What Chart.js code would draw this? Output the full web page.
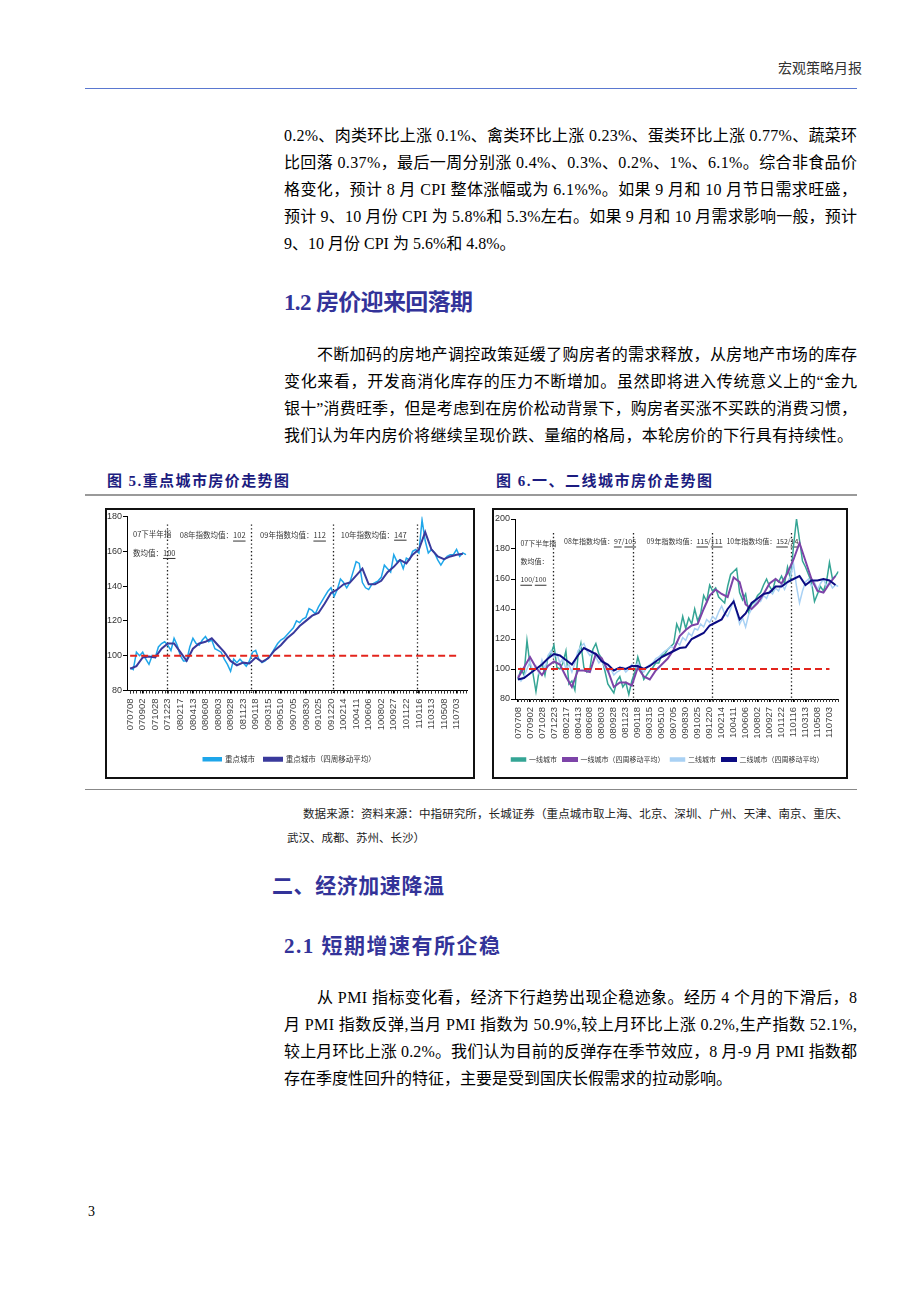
<!DOCTYPE html>
<html><head><meta charset="utf-8">
<script src="https://cdn.jsdelivr.net/npm/chart.js@4.4.1/dist/chart.umd.min.js"></script>
<style>
html,body{margin:0;padding:0;background:#fff;}
body{width:920px;height:1302px;position:relative;overflow:hidden;font-family:"Liberation Serif","Noto Sans CJK SC",serif;color:#000;}
.a{position:absolute;white-space:nowrap;}
.ln{font-size:16px;line-height:27px;height:27px;}
.h{color:#333399;font-weight:bold;font-family:"Liberation Serif","Noto Sans CJK SC",serif;line-height:30px;}
.cap{color:#1c1c80;font-weight:bold;font-size:15px;line-height:20px;}
.box{position:absolute;border:2px solid #111;box-sizing:border-box;background:#fff;}
.box canvas{display:block;}
.rule{position:absolute;left:85px;width:772px;}
.src{font-size:11.5px;line-height:16px;color:#222;}
</style></head><body>

<div class="a" style="left:778px;top:60px;font-size:14px;line-height:18px;color:#333;" data-w="84">宏观策略月报</div>
<div class="rule" style="top:88px;height:1px;background:#5a78d0;"></div>

<div class="a ln" style="left:284px;top:122px;" data-w="573">0.2%、肉类环比上涨 0.1%、禽类环比上涨 0.23%、蛋类环比上涨 0.77%、蔬菜环</div>
<div class="a ln" style="left:284px;top:149px;" data-w="573">比回落 0.37%，最后一周分别涨 0.4%、0.3%、0.2%、1%、6.1%。综合非食品价</div>
<div class="a ln" style="left:284px;top:176px;" data-w="573">格变化，预计 8 月 CPI 整体涨幅或为 6.1%%。如果 9 月和 10 月节日需求旺盛，</div>
<div class="a ln" style="left:284px;top:203px;" data-w="573">预计 9、10 月份 CPI 为 5.8%和 5.3%左右。如果 9 月和 10 月需求影响一般，预计</div>
<div class="a ln" style="left:284px;top:230px;">9、10 月份 CPI 为 5.6%和 4.8%。</div>

<div class="a h" style="left:284px;top:288px;font-size:23px;" data-w="189">1.2 房价迎来回落期</div>

<div class="a ln" style="left:317px;top:341px;" data-w="540">不断加码的房地产调控政策延缓了购房者的需求释放，从房地产市场的库存</div>
<div class="a ln" style="left:284px;top:368px;" data-w="573">变化来看，开发商消化库存的压力不断增加。虽然即将进入传统意义上的“金九</div>
<div class="a ln" style="left:284px;top:395px;" data-w="573">银十”消费旺季，但是考虑到在房价松动背景下，购房者买涨不买跌的消费习惯，</div>
<div class="a ln" style="left:284px;top:422px;" data-w="569">我们认为年内房价将继续呈现价跌、量缩的格局，本轮房价的下行具有持续性。</div>

<div class="a cap" style="left:107px;top:471px;" data-w="182">图 5.重点城市房价走势图</div>
<div class="a cap" style="left:496px;top:471px;" data-w="216">图 6.一、二线城市房价走势图</div>
<div class="rule" style="top:494px;height:2px;background:#9a9a9a;"></div>

<div class="box" style="left:105px;top:508px;width:370px;height:271px;"><canvas id="c1" width="366" height="267"></canvas></div>
<div class="box" style="left:492px;top:508px;width:356px;height:271px;"><canvas id="c2" width="352" height="267"></canvas></div>

<div class="rule" style="top:789px;height:1px;background:#888;"></div>
<div class="a src" style="left:303px;top:806px;" data-w="545">数据来源：资料来源：中指研究所，长城证券（重点城市取上海、北京、深圳、广州、天津、南京、重庆、</div>
<div class="a src" style="left:287px;top:830px;">武汉、成都、苏州、长沙）</div>

<div class="a h" style="left:272px;top:871px;font-size:21px;" data-w="172">二、经济加速降温</div>
<div class="a h" style="left:284px;top:931px;font-size:21px;" data-w="216">2.1 短期增速有所企稳</div>

<div class="a ln" style="left:317px;top:984px;" data-w="540">从 PMI 指标变化看，经济下行趋势出现企稳迹象。经历 4 个月的下滑后，8</div>
<div class="a ln" style="left:284px;top:1011px;" data-w="573">月 PMI 指数反弹,当月 PMI 指数为 50.9%,较上月环比上涨 0.2%,生产指数 52.1%,</div>
<div class="a ln" style="left:284px;top:1038px;" data-w="573">较上月环比上涨 0.2%。我们认为目前的反弹存在季节效应，8 月-9 月 PMI 指数都</div>
<div class="a ln" style="left:284px;top:1065px;">存在季度性回升的特征，主要是受到国庆长假需求的拉动影响。</div>

<div class="a" style="left:88px;top:1203px;font-size:14px;line-height:18px;">3</div>

<script>
// ---------- data ----------
const tickLabels = ['070708','070902','071028','071223','080217','080413','080608','080803','080928','081123','090118','090315','090510','090705','090830','091025','091220','100214','100411','100606','100802','100927','101122','110116','110313','110508','110703'];
const weeksPerTick = 8;
const rawStepWeeks = 2;
const maStepWeeks = 4;
const yearMarks = [23.5, 77, 129.5, 182.5];
const baseValue = 100;
const baseSpan = [0, 208];

// Fig 5: key cities
const keyCity = [93,92,102,100,102,98,95,100,99,105,
107,108,106,103,110,106,100,97,97,105,
110,107,106,109,111,108,109,104,103,102,
98,95,91,98,96,98,96,94,97,102,
103,98,96,97,99,101,104,107,109,110,
112,114,116,120,119,121,122,127,126,124,
128,131,134,137,139,134,138,144,142,139,
142,148,154,153,142,139,138,141,142,143,
145,152,150,148,158,154,155,150,156,155,
160,161,159,178,166,159,161,159,155,152,
155,157,158,158,161,157,159,158];
const keyCityMA = [92.5,94,99,99.5,99,104,107,107,102,97,
104,107,108,110,106,102,97,94.5,96,95.5,
99,96.5,98.5,103,106,110,113,117,120,123,
124.5,130,136,138,141,142,146,150,141,141,
143,148,151,155,153,158,161,171,161,157,
155.5,157,158,158.5];

// Fig 6: tier-1 / tier-2 cities
const tier1 = [93,100,96,119,103,97,85,98,104,96,
108,110,116,101,100,104,112,90,92,86,
108,117,101,98,100,113,117,110,107,99,
90,87,84,92,95,88,91,83,92,98,
108,101,93,96,99,101,104,104,109,110,
113,115,117,130,125,135,127,134,130,140,
132,137,149,145,156,152,154,148,146,144,
155,163,165,167,151,146,150,138,143,145,
149,151,156,160,155,152,160,158,162,157,
168,160,182,200,186,172,168,163,158,145,
150,155,152,158,171,160,162,165];
const tier1MA = [94,101,108,101,96,102,105,103,95,88,
99,99,98,110,107,99,88,91,91,89,
101,95,93,99,103,107,113,122,126,129,
130,140,149,153,150,148,161,158,143,140,
144,150,157,160,157,164,173,184,172,160,
152,151,157,162];
const tier2 = [96,92,95,100,105,98,102,97,106,100,
109,112,108,110,104,107,100,103,98,104,
112,115,117,112,109,111,108,104,106,101,
98,100,96,98,99,101,98,100,103,101,
104,100,98,101,103,104,107,108,110,112,
113,115,114,118,116,121,119,124,122,127,
126,130,128,133,131,135,133,138,142,137,
135,140,146,138,130,134,128,136,140,143,
146,145,149,147,152,150,154,152,157,153,
158,162,170,155,144,152,158,160,155,158,
153,157,160,155,158,154,156,155];
const tier2MA = [93,94,97,100,103,107,110,109,106,103,
109,114,112,110,105,103,99,101,100,102,
102,100,102,105,108,110,112,114,114.5,120,
122,124,129,131,133,140,145,133,137,144,
147,150,151,155,155,158,160,162,156,159,
159,160,159,156];

const notes1 = [
  {x:1.8, y:170, parts:[['07下半年指',0]]},
  {x:1.8, y:159, parts:[['数均值：',0],['100',1]]},
  {x:31.6, y:169, parts:[['08年指数均值：',0],['102',1]]},
  {x:82.8, y:169, parts:[['09年指数均值：',0],['112',1]]},
  {x:134.2, y:169.5, parts:[['10年指数均值：',0],['147',1]]}
];
const notes2 = [
  {x:1.6, y:184, parts:[['07下半年指',0]]},
  {x:1.6, y:172, parts:[['数均值：',0]]},
  {x:1.6, y:159.5, parts:[['100',1],['/',0],['100',1]]},
  {x:30.8, y:185, parts:[['08年指数均值：',0],['97',1],['/',0],['105',1]]},
  {x:85.9, y:185, parts:[['09年指数均值：',0],['115',1],['/',0],['111',1]]},
  {x:139.2, y:185, parts:[['10年指数均值：',0],['152',1],['/',0],['14',1]]}
];

// ---------- text fitting ----------
document.querySelectorAll('[data-w]').forEach(el=>{
  const target = +el.dataset.w;
  el.style.letterSpacing = '0px';
  const nat = el.getBoundingClientRect().width;
  const n = [...el.textContent].length;
  if (n > 1) el.style.letterSpacing = ((target - nat) / (n - 1)) + 'px';
});

// ---------- helpers ----------
const pts = (arr, step) => arr.map((v,i)=>({x:i*step, y:v}));
const CJK = '"Noto Sans CJK SC", sans-serif';

function makeDeco(cfg){
  return {
    id:'deco',
    beforeDatasetsDraw(chart){
      const {ctx, chartArea:{top,bottom}, scales:{x,y}} = chart;
      ctx.save();
      ctx.strokeStyle = '#222'; ctx.lineWidth = 1.3; ctx.setLineDash([1.4,2.4]);
      yearMarks.forEach(w=>{
        const px = Math.round(x.getPixelForValue(w)) + 0.5;
        ctx.beginPath(); ctx.moveTo(px, top + cfg.markTop); ctx.lineTo(px, bottom + 3); ctx.stroke();
      });
      ctx.setLineDash([]);
      ctx.font = cfg.noteFont + 'px ' + CJK;
      ctx.fillStyle = '#333'; ctx.textBaseline = 'middle'; ctx.textAlign = 'left';
      cfg.notes.forEach(n=>{
        let px = x.getPixelForValue(n.x); const py = y.getPixelForValue(n.y);
        n.parts.forEach(([t,u])=>{
          const w = ctx.measureText(t).width;
          ctx.fillText(t, px, py);
          if (u) ctx.fillRect(px, py + 5, w, 1);
          px += w;
        });
      });
      ctx.restore();
    },
    afterDraw(chart){
      const {ctx, chartArea:{bottom}, scales:{x}} = chart;
      ctx.save(); ctx.strokeStyle = '#333'; ctx.lineWidth = 1;
      for (let w = 0; w <= cfg.xmax; w += rawStepWeeks){
        const px = Math.round(x.getPixelForValue(w)) + 0.5;
        ctx.beginPath(); ctx.moveTo(px, bottom); ctx.lineTo(px, bottom + 3); ctx.stroke();
      }
      ctx.restore();
    }
  };
}

function makeChart(id, datasets, cfg){
  return new Chart(document.getElementById(id), {
    type:'line',
    data:{datasets},
    options:{
      responsive:false, animation:false, devicePixelRatio:1,
      layout:{padding:{top:cfg.padTop, right:cfg.padRight, left:0, bottom:cfg.padBottom}},
      elements:{point:{radius:0}, line:{tension:0}},
      plugins:{
        legend:{position:'bottom',
          labels:{boxWidth:cfg.boxW, boxHeight:3, padding:cfg.legPad, color:'#333',
            font:{size:cfg.legFont, family:CJK},
            filter:(it)=>it.text !== '',
            sort:(a,b)=>a.datasetIndex-b.datasetIndex}},
        tooltip:{enabled:false}
      },
      scales:{
        x:{type:'linear', min:-2, max:cfg.xmax,
          afterBuildTicks:(s)=>{ s.ticks = tickLabels.map((_,i)=>({value:i*weeksPerTick})); },
          afterFit:(s)=>{ s.height = cfg.xh; },
          ticks:{autoSkip:false, minRotation:90, maxRotation:90, padding:5, color:'#444',
            font:{size:9.5, family:'"Liberation Sans", Arial, sans-serif'},
            callback:(v)=>tickLabels[Math.round(v/weeksPerTick)] ?? ''},
          grid:{drawOnChartArea:false, tickLength:3, color:'#000'},
          border:{color:'#000', width:1}},
        y:{min:80, max:cfg.ymax,
          afterFit:(s)=>{ s.width = cfg.yw; },
          ticks:{stepSize:20, padding:1, color:'#333',
            font:{size:9, family:'"Liberation Sans Narrow", "Liberation Sans", Arial, sans-serif'}},
          grid:{drawOnChartArea:false, tickLength:4, color:'#000'},
          border:{color:'#000', width:1}}
      }
    },
    plugins:[makeDeco(cfg)]
  });
}

const baseLine = () => ({label:'', data:[{x:baseSpan[0],y:baseValue},{x:baseSpan[1],y:baseValue}],
  borderColor:'#e3241c', backgroundColor:'#e3241c', borderWidth:2, borderDash:[7,4], order:-1});

makeChart('c1', [
  {label:'重点城市', data:pts(keyCity, rawStepWeeks), borderColor:'#1ea6ea', backgroundColor:'#1ea6ea', borderWidth:1.5, order:2},
  {label:'重点城市（四周移动平均）', data:pts(keyCityMA, maStepWeeks), borderColor:'#3a3a9c', backgroundColor:'#3a3a9c', borderWidth:2, order:1},
  baseLine()
], {padTop:6, padRight:1, padBottom:4, xmax:215, ymax:180, yw:20, xh:56, markTop:8,
    notes:notes1, noteFont:7.5, legFont:7.5, boxW:18, legPad:9});

makeChart('c2', [
  {label:'一线城市', data:pts(tier1, rawStepWeeks), borderColor:'#35a595', backgroundColor:'#35a595', borderWidth:1.5, order:4},
  {label:'一线城市（四周移动平均）', data:pts(tier1MA, maStepWeeks), borderColor:'#7d44a8', backgroundColor:'#7d44a8', borderWidth:2, order:2},
  {label:'二线城市', data:pts(tier2, rawStepWeeks), borderColor:'#a9d1f4', backgroundColor:'#a9d1f4', borderWidth:1.5, order:3},
  {label:'二线城市（四周移动平均）', data:pts(tier2MA, maStepWeeks), borderColor:'#0b0b82', backgroundColor:'#0b0b82', borderWidth:2, order:1},
  baseLine()
], {padTop:9, padRight:5, padBottom:4, xmax:214, ymax:200, yw:21, xh:51, markTop:14,
    notes:notes2, noteFont:7, legFont:7, boxW:14, legPad:6});
</script>
</body></html>
